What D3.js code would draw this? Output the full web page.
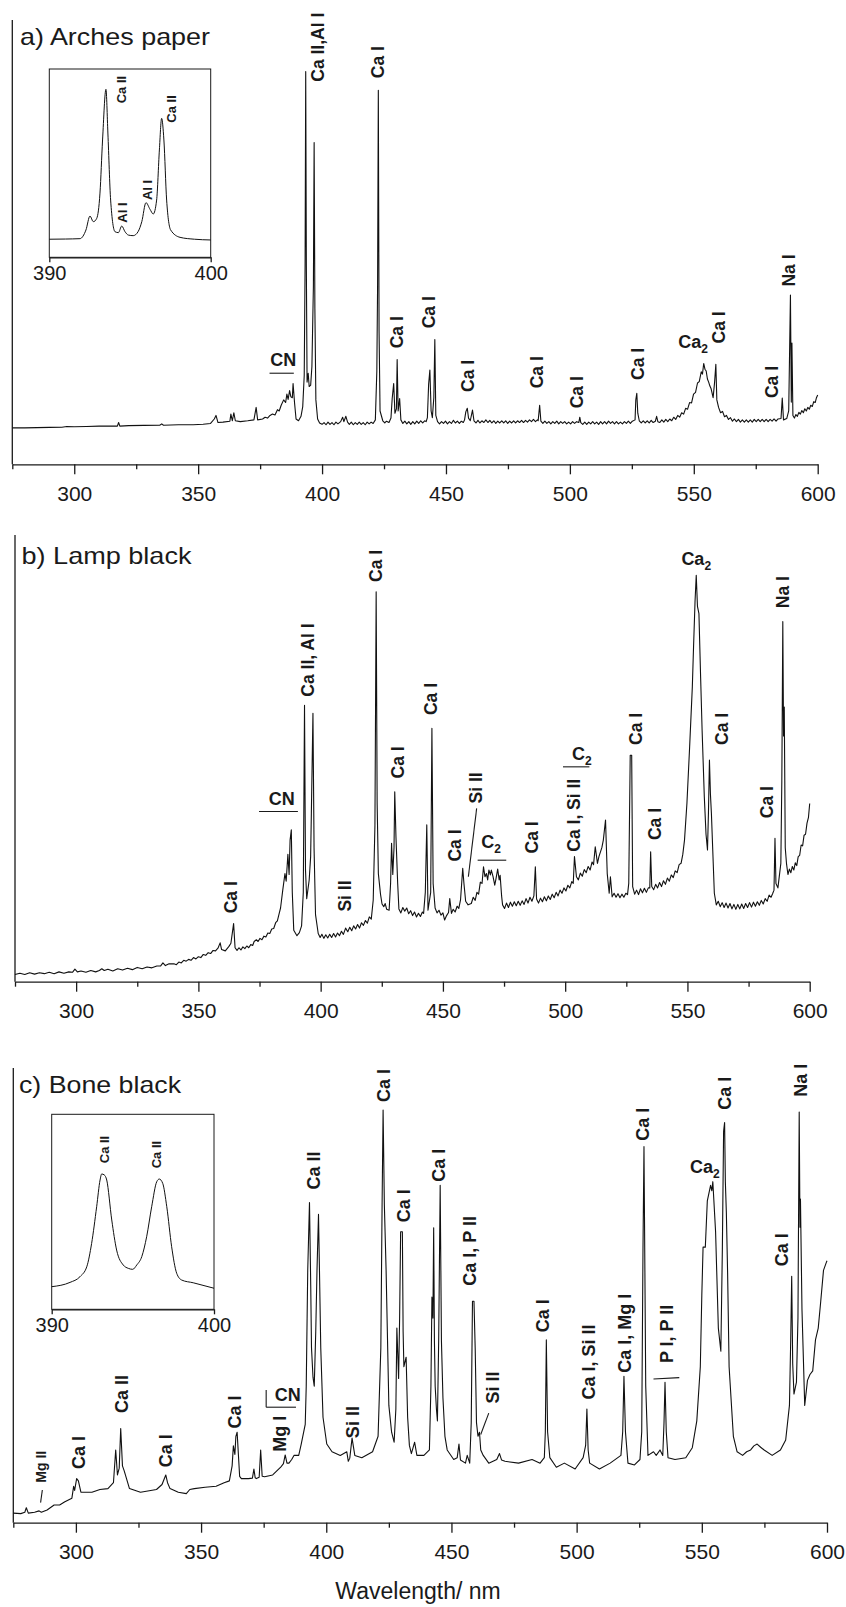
<!DOCTYPE html>
<html lang="en">
<head>
<meta charset="UTF-8">
<title>LIBS spectra</title>
<script src="https://d3js.org/d3.v7.min.js"></script>
<style>
  body { margin: 0; background: #fff; }
  svg text { font-family: "Liberation Sans", Arial, sans-serif; fill: #1a1a1a; }
</style>
</head>
<body>
<svg id="main" width="846" height="1607" viewBox="0 0 846 1607"></svg>
<script>
// ---- data: [wavelength nm, relative intensity 0..100 of the panel height] ----
const majorTicks = [300, 350, 400, 450, 500, 550, 600];
const minorTicks = [275, 325, 375, 425, 475, 525, 575];
const insetTicks = [390, 400];

const archesSpectrum = [
  [275, 8.2], [280, 8.2], [285, 8.25], [290, 8.3], [295, 8.35], [297, 8.5], [300, 8.45], [305, 8.5], [310, 8.6],
  [315, 8.6], [317.4, 8.6], [317.9, 9.4], [318.4, 8.6], [322, 8.7], [328, 8.75], [334.5, 8.8], [335.3, 9.1],
  [336, 8.8], [342, 8.9], [348, 8.9], [352, 9.0], [355, 9.2], [356.5, 10.2], [357.2, 11.0], [358, 9.4], [360, 9.5],
  [362.8, 9.7], [363.2, 11.3], [363.8, 9.8], [364.4, 11.6], [365, 9.8], [367, 9.6], [370, 9.8], [372.5, 10],
  [373.4, 12.8], [374, 10.0], [376, 10.2], [377, 10.6], [378, 10.4], [379, 11.0], [380, 11.3], [381, 11.1],
  [382, 12.3], [382.7, 12.0], [383.5, 13.3], [384.5, 14.5],
  [385.3, 13.9], [385.8, 15.8], [386.3, 14.6], [386.9, 16.6], [387.4, 15.2], [388, 15.0], [388.3, 18.2],
  [388.9, 13.8], [389.5, 10.2], [390.5, 9.8], [391.5, 10.8], [392.2, 13], [392.8, 20], [393.15, 45], [393.4, 88.4],
  [393.65, 45], [393.95, 18.5], [394.4, 20.5], [394.8, 17.5], [395.4, 17.8], [395.9, 22], [396.15, 29.5],
  [396.5, 40], [396.8, 72.4], [397.1, 35], [397.5, 14.5], [398.2, 10.2], [399, 9.3],
  [400, 9.0], [400.8, 9.4], [401.6, 8.9], [402.4, 9.5], [403.2, 9.0], [404, 9.4], [404.8, 8.9], [405.6, 9.5],
  [406.4, 9.1], [407.5, 9.6], [408.3, 10.6], [408.8, 9.6], [409.6, 10.8], [410.3, 9.5], [411, 9.0], [411.8, 9.5],
  [412.6, 8.9], [413.4, 9.4], [414.2, 9.0], [415, 9.5], [415.8, 9.0], [416.6, 9.4], [417.4, 8.9], [418.2, 9.5],
  [419, 9.1], [419.8, 9.5], [420.6, 9.2], [421.5, 10.0], [422.1, 21], [422.4, 40], [422.7, 84.2], [423, 30],
  [423.4, 12], [424.5, 9.8], [425.3, 9.3], [426, 9.7], [427, 9.4], [427.8, 10.4], [428.3, 14.8], [428.9, 18.2],
  [429.4, 11.5], [430.0, 12.5], [430.3, 23.6], [430.7, 12], [431.3, 14.8], [431.8, 10.0], [432.6, 9.2],
  [433.4, 9.7], [434.2, 9.1], [435, 9.6], [435.8, 9.0], [436.6, 9.6], [437.4, 9.1], [438.2, 9.7], [439, 9.2],
  [439.8, 9.8], [440.6, 9.3], [441.4, 9.8], [442, 9.6], [442.5, 10.5], [443, 18.0], [443.5, 21.2], [444, 12],
  [444.5, 10.5], [445.1, 15], [445.5, 28.1], [445.9, 11], [446.6, 9.6], [447.4, 9.1], [448.2, 9.6], [449, 9.2],
  [449.8, 9.7], [450.6, 9.1], [451.4, 9.6], [452.2, 9.2], [453, 9.9], [453.8, 9.3], [454.6, 9.7], [455.4, 9.2],
  [456.2, 9.7], [457, 9.4], [457.5, 10.0], [458, 11.8], [458.6, 12.6], [459.1, 10.4], [459.8, 9.8], [460.7, 12.2],
  [461.3, 9.8], [462.1, 9.3], [462.9, 9.9], [463.7, 9.3], [464.5, 9.8], [465.3, 9.4], [466.1, 10.0], [466.9, 9.4],
  [467.7, 9.9], [468.5, 9.3], [469.3, 9.8], [470.1, 9.2], [470.9, 9.7], [471.7, 9.3], [472.5, 9.8], [473.3, 9.3],
  [474.1, 9.8], [474.9, 9.2], [475.7, 9.7], [476.5, 9.3], [477.3, 9.8], [478.1, 9.3], [478.9, 9.8], [479.7, 9.4],
  [480.5, 9.9], [481.3, 9.4], [482.1, 9.9], [482.9, 9.5], [483.7, 10.0], [484.5, 9.6], [485.3, 10.1], [486.1, 9.6],
  [486.9, 10.0], [487.2, 9.8], [487.8, 13.3], [488.3, 9.7], [489.1, 9.2], [489.9, 9.7], [490.7, 9.2], [491.5, 9.6],
  [492.3, 9.1], [493.1, 9.6], [493.9, 9.2], [494.7, 9.7], [495.5, 9.1], [496.3, 9.6], [497.1, 9.2], [497.9, 9.6],
  [498.7, 9.1], [499.5, 9.5], [500.3, 9.1], [501.1, 9.6], [501.9, 9.2], [502.7, 9.6], [503.6, 9.4], [504.0, 10.6],
  [504.4, 9.4], [505.2, 9.0], [506, 9.5], [506.8, 9.0], [507.6, 9.5], [508.4, 9.1], [509.2, 9.6], [510, 9.1],
  [510.8, 9.5], [511.6, 9.0], [512.4, 9.6], [513.2, 9.1], [514, 9.6], [514.8, 9.1], [515.6, 9.7], [516.4, 9.2],
  [517.2, 9.6], [518, 9.1], [518.8, 9.6], [519.6, 9.1], [520.4, 9.5], [521.2, 9.1], [522, 9.6], [522.8, 9.2],
  [523.6, 9.7], [524.4, 9.2], [525.2, 9.7], [526.3, 10.0], [526.6, 14.5], [527, 16.0], [527.4, 11.5], [528, 9.8],
  [528.8, 9.3], [529.6, 9.8], [530.4, 9.3], [531.2, 9.8], [532, 9.3], [532.8, 9.9], [533.6, 9.4], [534.5, 9.7],
  [535, 10.8], [535.5, 9.6], [536.3, 9.4], [537.1, 10.0], [537.9, 9.5], [538.7, 10.1], [539.5, 9.6], [540.3, 10.2],
  [541.1, 9.8], [541.9, 10.6], [542.7, 10.1], [543.5, 11.0], [544.3, 10.6], [545.1, 11.6], [545.9, 11.3],
  [546.7, 12.6], [547.5, 12.4], [548.3, 13.9], [549.1, 13.8], [549.9, 15.8], [550.7, 16.2], [551.5, 18.3],
  [552.2, 18.6], [553, 20.8], [553.5, 20.3], [554, 22.7], [554.5, 21.4], [555, 21.0], [555.5, 19.2], [556, 18.5],
  [556.5, 17.6], [557, 17.0], [557.8, 15.0], [558.4, 18.5], [558.9, 22.5], [559.3, 14.5], [560, 12.8],
  [560.8, 11.6], [561.6, 11.9], [562.4, 10.7], [563.2, 11.0], [564, 10.1], [564.8, 10.5], [565.6, 9.7],
  [566.4, 10.2], [567.2, 9.6], [568, 10.1], [568.8, 9.5], [569.6, 10.0], [570.4, 9.5], [571.2, 10.0], [572, 9.5],
  [572.8, 10.0], [573.6, 9.5], [574.4, 10.1], [575.2, 9.6], [576, 10.1], [576.8, 9.6], [577.6, 10.1], [578.4, 9.6],
  [579.2, 10.1], [580, 9.6], [580.8, 10.1], [581.6, 9.7], [582.4, 10.2], [583.2, 9.7], [584, 10.2], [585.2, 10.3],
  [585.7, 14.9], [586.2, 10.0], [587.5, 10.3], [588.3, 12], [589.0, 38.1], [589.35, 14], [589.6, 27.3],
  [590, 11.0], [590.6, 10.4], [591.2, 11.2], [591.8, 10.8], [592.4, 11.7], [593, 11.3], [593.6, 12.1],
  [594.2, 11.6], [594.8, 12.5], [595.4, 12.0], [596, 12.8], [596.6, 12.4], [597.2, 13.3], [597.8, 13.0],
  [598.4, 14.1], [599, 13.9], [599.5, 15.0], [600, 15.6]
];

const archesInset = [
  [390.0, 9.6], [391.0, 9.7], [391.9, 9.9], [392.27, 14.5], [392.52, 21.9], [392.73, 18.9], [392.94, 20.7],
  [393.14, 34.1], [393.3, 62.3], [393.51, 89.2], [393.63, 66.0], [393.8, 30.4], [394.07, 13.6], [394.28, 13.1],
  [394.49, 16.6], [394.69, 13.6], [394.9, 11.8], [395.2, 11.5], [395.5, 13.6], [395.73, 18.9], [395.99, 29.0],
  [396.24, 25.5], [396.44, 23.0], [396.65, 30.4], [396.82, 57.0], [396.96, 73.8], [397.1, 62.3], [397.27, 30.4],
  [397.52, 14.5], [398.1, 10.6], [399.0, 9.6], [400, 9.2]
];

const lampSpectrum = [
  [275, 1.6], [277, 1.9], [279, 1.6], [281, 2.0], [283, 1.7], [285, 2.0], [287, 1.8], [289, 2.1], [291, 1.8],
  [293, 2.2], [295, 1.9], [297, 2.2], [298.5, 2.1], [299.5, 2.8], [300.5, 2.2], [302, 2.4], [304, 2.1], [306, 2.5],
  [308, 2.2], [309.5, 2.5], [310.5, 2.9], [311.5, 2.5], [313, 2.8], [315, 2.4], [317, 2.9], [319, 2.6], [321, 3.0],
  [323, 2.7], [325, 3.2], [327, 2.9], [329, 3.3], [331, 3.1], [333, 3.5], [334.5, 3.5], [335.5, 4.2], [336.5, 3.6],
  [338, 4.0], [340, 4.0], [341, 3.8], [342, 4.4], [343, 4.2], [344, 4.8], [345, 4.6], [346, 5.0], [347, 4.8],
  [348, 5.4], [349, 5.1], [350, 5.6], [351, 5.4], [352, 6.1], [353, 5.9], [354, 6.5], [355, 6.3], [356, 7.0],
  [357, 6.9], [358, 7.5], [358.9, 8.7], [359.5, 7.2], [361, 6.9], [362.5, 7.9], [363.3, 8.6], [364.4, 13.0],
  [365, 7.6], [365.8, 7.0], [366.6, 7.6], [367.4, 7.1], [368.2, 7.8], [369, 7.4], [369.8, 8.0], [370.6, 7.6],
  [371.4, 8.3], [372.2, 8.1], [372.8, 9.0], [373.7, 9.4], [374.4, 9.0], [375.2, 9.7], [376, 9.4], [376.8, 10.2],
  [377.6, 10.0], [378.4, 10.9], [379.2, 10.8], [380, 11.8], [380.8, 11.9], [381.6, 13.2], [382.3, 13.6],
  [383, 15.2], [383.6, 16.5], [384.5, 20.5], [385.4, 24.2], [385.9, 22.5], [386.6, 28.5], [387.1, 24],
  [387.5, 31.7], [388.0, 34.0], [388.4, 20], [389, 11.5], [390.3, 10.3], [391.3, 11.0], [392.2, 12.5],
  [392.9, 20], [393.4, 61.9], [393.8, 25], [394.3, 18.6], [395.3, 22.7], [395.9, 28], [396.2, 37.7],
  [396.85, 60.1], [397.3, 30], [397.9, 15], [399, 10.8], [399.8, 9.9], [400.5, 10.6], [401.3, 9.7], [402.1, 10.5],
  [402.9, 9.8], [403.7, 10.6], [404.5, 9.9], [405.3, 10.8], [406.1, 10.0], [406.9, 10.9], [407.7, 10.3],
  [408.5, 11.3], [409.3, 10.6], [410.2, 12.0], [411.1, 11.2], [411.9, 12.2], [412.7, 11.4], [413.5, 12.5],
  [414.3, 11.8], [415.1, 12.8], [415.9, 12.0], [416.7, 13.2], [417.5, 12.6], [418.3, 13.7], [419.1, 13.1],
  [419.9, 14.5], [420.7, 14.0], [421.5, 18.3], [422.2, 35], [422.7, 87.3], [423.1, 40], [423.6, 24.2],
  [424.5, 19.5], [425.1, 17.4], [425.8, 16.8], [426.4, 17.5], [427, 16.2], [428, 16.0], [428.6, 22], [429.0, 31.0],
  [429.5, 24], [430.0, 30], [430.3, 42.5], [430.8, 32.4], [431.5, 22], [432, 16.3], [432.8, 15.4], [433.6, 16.6],
  [434.4, 15.8], [435.2, 16.5], [436, 15.2], [436.8, 15.9], [437.6, 14.8], [438.4, 15.6], [439.2, 14.5],
  [440, 15.3], [440.8, 14.6], [441.6, 15.6], [442.1, 15.3], [442.8, 20], [443.4, 35.1], [443.9, 16.0],
  [445.0, 20], [445.5, 56.7], [446.0, 22], [446.8, 16.5], [447.6, 15.4], [448.4, 16.0], [449.2, 14.9],
  [450, 15.4], [450.7, 13.8], [451.5, 14.8], [452.3, 15.5], [452.8, 18.6], [453.5, 15.3], [454.2, 16.2],
  [455, 15.6], [455.8, 16.9], [456.5, 16.4], [457.2, 18.3], [458.1, 25.4], [458.6, 22], [459.3, 18.0],
  [460.3, 17.2], [461.6, 17.5], [462.4, 18.9], [463.2, 18.2], [463.9, 20.0], [464.6, 19.6], [465.3, 22.3],
  [466, 22.0], [466.6, 25.7], [467.2, 23.5], [467.8, 24.2], [468.3, 22.8], [468.8, 25.0], [469.4, 23.9],
  [469.8, 25.0], [470.5, 23.5], [471.2, 21.6], [471.7, 23.0], [472.4, 25.2], [473.0, 22.8], [473.4, 23.8],
  [474.0, 19.2], [474.4, 17.2], [475.2, 16.4], [476, 17.6], [476.8, 16.6], [477.6, 17.8], [478.4, 16.9],
  [479.2, 17.9], [480, 17.0], [480.8, 18.0], [481.6, 17.1], [482.4, 18.1], [483.2, 17.3], [484, 18.6],
  [484.8, 17.6], [485.6, 18.9], [486.4, 18.0], [487.2, 19.2], [487.8, 25.7], [488.3, 18.5], [489.1, 17.6],
  [489.9, 18.7], [490.7, 17.9], [491.5, 19.0], [492.3, 18.1], [493.1, 19.2], [493.9, 18.4], [494.7, 19.6],
  [495.5, 18.8], [496.3, 20.0], [497.1, 19.2], [497.9, 20.5], [498.7, 19.8], [499.5, 21.0], [500.3, 20.3],
  [501.1, 21.6], [501.9, 21.0], [502.7, 22.4], [503.3, 22.0], [503.8, 28.0], [504.6, 23.5], [505.4, 22.8],
  [506.2, 24.3], [507, 23.6], [507.8, 25.1], [508.6, 24.4], [509.4, 25.8], [510.2, 25.0], [511, 26.8],
  [511.6, 26.2], [512.3, 30.2], [513.2, 26.5], [513.8, 28.0], [515, 30], [515.6, 31.7], [516.5, 36.2],
  [517.2, 24.2], [518, 19.8], [518.5, 23.5], [519.2, 19.0], [520, 19.8], [520.8, 18.9], [521.6, 19.7],
  [522.4, 18.8], [523.2, 19.6], [524, 18.9], [524.8, 19.8], [525.5, 19.5], [526.0, 22], [526.6, 50.7],
  [527.2, 50.7], [527.6, 21.3], [528.4, 19.6], [529.2, 20.5], [530, 19.5], [530.8, 20.8], [531.6, 19.9],
  [532.4, 20.9], [533.2, 20.0], [534, 21.0], [534.6, 21], [534.95, 29.1], [535.4, 21.3], [536.2, 20.6],
  [537, 21.8], [537.8, 21.0], [538.6, 22.2], [539.4, 21.3], [540.2, 22.6], [541, 21.8], [541.8, 23.2],
  [542.6, 22.5], [543.4, 23.9], [544.2, 23.3], [545, 24.8], [545.8, 24.4], [546.6, 26.2], [547.4, 26.5],
  [548.1, 28.5], [548.8, 31.7], [549.8, 40], [550.9, 52.6], [552.0, 66], [552.5, 75.0], [553.1, 85],
  [553.6, 91.0], [554.1, 84], [554.7, 82.4], [555.4, 68], [556, 56.3], [556.9, 41.4], [557.6, 33], [558.2, 29.5],
  [558.6, 38], [559.0, 49.6], [559.4, 42], [559.8, 37.7], [560.3, 30.2], [561, 19.8], [561.8, 17.2], [562.6, 18.0],
  [563.4, 16.8], [564.2, 17.7], [565, 16.6], [565.8, 17.6], [566.6, 16.5], [567.4, 17.5], [568.2, 16.3],
  [569, 17.3], [569.8, 16.2], [570.6, 17.3], [571.4, 16.3], [572.2, 17.4], [573, 16.4], [573.8, 17.5],
  [574.6, 16.6], [575.4, 17.7], [576.2, 16.7], [577, 17.8], [577.8, 16.9], [578.6, 17.9], [579.4, 17.1],
  [580.2, 18.2], [581, 17.4], [581.8, 18.6], [582.6, 18.0], [583.4, 19.4], [584.2, 18.9], [584.9, 19.8],
  [585.4, 20.5], [585.8, 32.1], [586.2, 22], [587, 21.0], [588.2, 26.5], [588.6, 45], [589.0, 80.6], [589.3, 55],
  [589.6, 61.5], [590.0, 30], [590.5, 26.5], [591.1, 24.0], [591.7, 25.2], [592.3, 24.4], [592.9, 25.8],
  [593.5, 25.0], [594.1, 26.6], [594.7, 26.0], [595.3, 28.0], [595.9, 28.3], [596.5, 30.6], [597.1, 30.4],
  [597.7, 32.8], [598.3, 33.0], [598.9, 35.5], [599.5, 36.8], [600, 39.9]
];

const boneSpectrum = [
  [275, 2.1], [278, 2.0], [279.6, 2.3], [280.2, 3.3], [281, 2.1], [283.5, 2.3], [285.3, 2.6], [286.2, 2.3],
  [288.5, 2.8], [291.3, 3.9], [293.5, 3.9], [295.6, 4.6], [298.4, 5.4], [299.1, 8.0], [299.5, 7.1], [300.3, 9.7],
  [301.0, 9.2], [302.0, 6.7], [306.4, 6.7], [309.6, 7.3], [312.8, 7.5], [315.0, 8.8], [315.9, 16.0], [316.6, 10.5],
  [317.3, 12.0], [317.9, 20.7], [318.6, 12.5], [319.3, 11.4], [321.4, 7.5], [325.8, 6.7], [332.2, 7.3],
  [334.4, 8.4], [335.9, 10.5], [336.6, 8.8], [337.6, 7.5], [340.9, 6.7], [344.1, 6.4], [345.5, 7.3], [347.3, 7.5],
  [351.6, 7.8], [356, 8.0], [359.2, 8.8], [361.3, 9.2], [362.4, 12.5], [362.9, 16.9], [363.5, 15.0], [363.9, 19.0],
  [364.4, 19.9], [365.4, 10.2], [366.1, 9.7], [368.9, 9.7], [370.5, 9.8], [371.1, 11.8], [371.6, 9.9],
  [372.1, 9.7], [373.2, 10.0], [373.8, 16.0], [374.4, 10.2], [375.4, 10.1], [378.6, 10.5], [381.8, 12.2],
  [382.9, 13.0], [383.6, 14.9], [384.3, 13.1], [385.1, 13.1], [386.2, 13.9], [387.1, 14.8], [387.9, 14.8],
  [389.0, 14.8], [390.0, 17.3], [391.6, 21.6], [392.0, 30.0], [392.6, 55.5], [393.3, 70.4], [393.8, 52],
  [394.1, 38.5], [394.7, 32], [395.2, 30.0], [395.8, 42], [396.3, 55.5], [396.9, 67.8], [397.3, 55], [397.8, 38.5],
  [398.7, 23.2], [400.2, 17.3], [402.3, 15.6], [405.6, 14.8], [408.2, 15.6], [408.8, 13.5], [409.4, 14.2],
  [410.3, 18.6], [411.4, 14.8], [414.2, 14.3], [418.5, 15.6], [420.7, 19.0], [421.8, 38.5], [422.3, 70],
  [422.7, 90.75], [423.2, 70], [423.9, 55.5], [425.0, 25.8], [426.1, 19.9], [427.1, 17.7], [427.8, 25],
  [428.2, 42.8], [428.9, 31.7], [429.3, 45], [429.7, 64.0], [430.4, 64.0], [430.7, 42], [431.0, 34.3],
  [431.9, 36.4], [432.5, 23.2], [433.2, 17], [434.0, 15.2], [435.3, 17.7], [436.2, 14.8], [439.0, 14.8],
  [441.2, 16.0], [441.8, 30], [442.2, 49.6], [442.6, 45], [442.9, 64.85], [443.2, 40], [443.5, 30.0], [444.0, 25],
  [444.4, 22.4], [444.9, 40], [445.5, 74.2], [446.0, 40], [446.6, 27.5], [447.4, 19], [448.3, 16.0], [450.9, 13.9],
  [452.3, 14.3], [453.0, 17.3], [453.6, 13.8], [455.6, 13.1], [456.3, 14.8], [457.3, 13.1], [457.9, 22],
  [458.4, 48.7], [459.0, 48.7], [459.5, 38], [460.0, 22], [460.6, 19.0], [461.2, 19.9], [461.7, 16], [462.7, 14.8],
  [464.9, 13.1], [468.1, 13.9], [469.2, 15.2], [470.0, 13.8], [471.4, 13.5], [476.8, 13.1], [482.2, 13.9],
  [485.4, 13.1], [487.1, 14.3], [487.5, 20], [487.9, 40.2], [488.4, 20], [489.3, 14.3], [491.9, 12.2],
  [495.1, 13.1], [499.4, 11.8], [502.6, 14.3], [503.6, 17], [504.1, 25.0], [504.6, 16], [505.2, 13.1],
  [509.1, 11.8], [513.4, 13.1], [517.7, 14.8], [518.4, 20], [518.9, 32.2], [519.5, 20], [520.5, 13.1],
  [523.1, 12.7], [525.3, 13.9], [526.0, 20], [526.5, 60], [526.9, 82.7], [527.2, 60], [527.6, 30.0], [528.5, 14.8],
  [530.7, 15.6], [531.8, 14.8], [533.3, 16.0], [534.4, 14.8], [534.9, 22], [535.3, 30.9], [535.8, 20],
  [536.5, 14.3], [539.3, 13.9], [543.6, 14.3], [546.2, 16.5], [548.0, 22.4], [549.4, 34.3], [550.0, 50],
  [550.5, 60.6], [551.4, 60.6], [552.2, 70.8], [553.5, 74.2], [554.0, 73], [554.4, 75.0], [555.5, 64.0],
  [556.6, 42.8], [557.6, 37.7], [558.2, 60], [558.7, 86.1], [559.1, 88.0], [559.4, 75], [559.8, 68.2],
  [560.3, 55], [560.9, 34.3], [562.6, 19.0], [564.1, 15.6], [566.3, 14.8], [567.9, 15.6], [569.5, 16.0],
  [570.8, 16.9], [572.1, 17.3], [573.5, 16.6], [574.9, 16.0], [578.1, 14.8], [581.4, 16.0], [583.5, 18.2],
  [585.0, 25.8], [585.5, 40], [585.9, 54.2], [586.3, 35], [586.8, 28.3], [587.8, 30.9], [588.4, 45], [588.9, 90.3],
  [589.2, 65], [589.4, 71.2], [590.0, 47.0], [591.1, 25.8], [592.2, 31.3], [593.2, 32.6], [594.3, 33.4],
  [595.4, 40.2], [596.5, 42.8], [597.5, 48.7], [598.6, 55.5], [599.7, 57.2], [600, 57.6]
];

const boneInset = [
  [390, 11.6], [391.13, 13.8], [391.74, 16.7], [392.16, 21.8], [392.46, 33.8], [392.77, 52.6], [392.98, 66.3],
  [393.08, 69.4], [393.24, 68.9], [393.39, 66.3], [393.7, 45.8], [394.0, 30.4], [394.41, 22.7], [394.72, 21.0],
  [394.99, 20.5], [395.24, 22.7], [395.55, 27.0], [395.85, 37.2], [396.16, 52.6], [396.47, 65.4], [396.63, 66.8],
  [396.84, 64.6], [397.09, 52.6], [397.39, 32.1], [397.7, 18.5], [398.01, 15.0], [398.72, 13.6], [400, 10.8]
];

// peak labels: [text, wavelength, intensity where the rotated text starts]
const archesLabels = [
  ['Ca II,Al I', 398.4, 86.1], ['Ca I', 422.3, 86.9], ['Ca I', 430.0, 26.1], ['Ca I', 443.0, 30.6],
  ['Ca I', 458.9, 16.3], ['Ca I', 486.6, 17.1], ['Ca I', 502.9, 12.6], ['Ca I', 527.5, 19.0],
  ['Ca I', 560.1, 27.2], ['Ca I', 581.6, 14.9], ['Na I', 588.2, 40.0]
];
const lampLabels = [
  ['Ca II, Al I', 394.7, 63.8], ['Ca I', 422.7, 89.5], ['Ca I', 363.1, 15.3], ['Si II', 409.7, 15.7],
  ['Ca I', 431.5, 45.5], ['Ca I', 444.8, 59.7], ['Ca I', 454.7, 26.9], ['Si II', 463.5, 39.9],
  ['Ca I', 486.3, 28.7], ['Ca I, Si II', 503.5, 29.1], ['Ca I', 528.9, 53.0], ['Ca I', 536.6, 31.7],
  ['Ca I', 563.9, 53.0], ['Ca I', 582.3, 36.6], ['Na I', 588.9, 83.6]
];
const boneLabels = [
  ['Ca I', 301.0, 11.8], ['Ca II', 318.2, 24.1], ['Ca I', 335.9, 12.2], ['Ca I', 363.5, 20.7],
  ['Mg I', 381.4, 15.6], ['Ca II', 394.8, 73.3], ['Si II', 410.3, 18.6], ['Ca I', 422.8, 92.5],
  ['Ca I', 431.0, 66.1], ['Ca I', 444.8, 75.0], ['Ca I, P II', 457.3, 52.1], ['Si II', 466.4, 26.2],
  ['Ca I', 486.5, 41.9], ['Ca I, Si II', 504.8, 27.1], ['Ca I, Mg I', 519.3, 33.0], ['Ca I', 526.4, 84.0],
  ['P I, P II', 536.1, 35.1], ['Ca I', 559.2, 90.8], ['Ca I', 582.0, 56.4], ['Na I', 589.6, 93.7]
];
const boneSmallLabels = [['Mg II', 285.9, 8.8]];

// molecular band labels: [text, subscript, wavelength, intensity of text centre]
const archesBands = [['CN', '', 384.3, 23.5], ['Ca', '2', 549.7, 27.6]];
const lampBands = [['CN', '', 384.1, 41.1], ['C', '2', 469.7, 31.3], ['C', '2', 506.8, 51.1], ['Ca', '2', 553.6, 94.8]];
const boneBands = [['CN', '', 384.6, 28.3], ['Ca', '2', 551.2, 78.4]];

// bars and leader lines: [[wavelength, intensity], [wavelength, intensity]]
const archesMarks = [[[378.8, 20.5], [388.6, 20.5]]];
const lampMarks = [
  [[374.8, 38.1], [390.7, 38.1]], [[464.2, 27.2], [475.9, 27.2]], [[499.1, 48.1], [509.9, 48.1]],
  [[463.8, 38.8], [460.4, 23.5]]
];
const boneMarks = [
  [[376.0, 29.2], [376.0, 25.4]], [[376.0, 25.4], [387.9, 25.4]], [[530.7, 31.6], [541.0, 31.9]],
  [[286.6, 7.2], [285.9, 4.4]], [[464.9, 24.1], [461.7, 19.4]]
];

const archesInsetLabels = [['Ca II', 394.45, 81.8], ['Ca II', 397.56, 71.5], ['Al I', 394.54, 18.4], ['Al I', 396.08, 30.4]];
const boneInsetLabels = [['Ca II', 393.24, 74.9], ['Ca II', 396.44, 72.3]];

// ---- layout ----
const panels = [
  { title: 'a) Arches paper', titleX: 20, titleY: 45, titleLen: 190,
    left: 12.3, right: 817.7, top: 20, bottom: 464.3, labelSize: 17.5,
    data: archesSpectrum, labels: archesLabels, small: [], bands: archesBands, marks: archesMarks,
    inset: { left: 49.3, right: 210.7, top: 69, bottom: 257.3, data: archesInset, labels: archesInsetLabels } },
  { title: 'b) Lamp black', titleX: 21.5, titleY: 564, titleLen: 170,
    left: 15, right: 809.7, top: 535, bottom: 981.7, labelSize: 17.5,
    data: lampSpectrum, labels: lampLabels, small: [], bands: lampBands, marks: lampMarks, inset: null },
  { title: 'c) Bone black', titleX: 19, titleY: 1093, titleLen: 162,
    left: 13.3, right: 827, top: 1068, bottom: 1522.7, labelSize: 18,
    data: boneSpectrum, labels: boneLabels, small: boneSmallLabels, bands: boneBands, marks: boneMarks,
    inset: { left: 51.7, right: 214, top: 1114.3, bottom: 1309.3, data: boneInset, labels: boneInsetLabels } }
];

const svg = d3.select('svg#main');

function styleAxis(g, size) {
    g.attr('font-size', size);
    g.select('.domain').attr('stroke', '#1a1a1a').attr('stroke-width', 1.3);
    g.selectAll('.tick line').attr('stroke', '#1a1a1a').attr('stroke-width', 1.3);
}

function rotatedLabels(g, x, y, rows, size) {
    g.selectAll(null)
        .data(rows)
        .enter()
        .append('text')
        .attr('transform', d => `translate(${x(d[1])},${y(d[2])}) rotate(-90)`)
        .attr('dy', '0.36em')
        .attr('font-weight', 'bold')
        .attr('font-size', size)
        .text(d => d[0]);
}

panels.forEach(function (p) {
    let g = svg.append('g');
    let x = d3.scaleLinear().domain([275, 600]).range([p.left, p.right]);
    let y = d3.scaleLinear().domain([0, 100]).range([p.bottom, p.top]);

    // y axis line only
    g.append('line')
        .attr('x1', p.left).attr('x2', p.left)
        .attr('y1', p.top).attr('y2', p.bottom)
        .attr('stroke', '#1a1a1a').attr('stroke-width', 1.3);

    g.append('g')
        .attr('transform', `translate(0,${p.bottom})`)
        .call(d3.axisBottom(x).tickValues(majorTicks).tickSize(10).tickSizeOuter(0).tickPadding(11.5))
        .call(a => styleAxis(a, 21));

    g.append('g')
        .attr('transform', `translate(0,${p.bottom})`)
        .call(d3.axisBottom(x).tickValues(minorTicks).tickSize(5).tickSizeOuter(0).tickFormat(''))
        .call(a => { styleAxis(a, 21); a.select('.domain').remove(); });

    let line = d3.line().x(d => x(d[0])).y(d => y(d[1]));
    g.append('path')
        .datum(p.data)
        .attr('d', line)
        .attr('fill', 'none')
        .attr('stroke', '#111')
        .attr('stroke-width', 1.1)
        .attr('stroke-linejoin', 'round');

    g.append('text')
        .attr('x', p.titleX).attr('y', p.titleY)
        .attr('font-size', 24)
        .attr('textLength', p.titleLen)
        .attr('lengthAdjust', 'spacingAndGlyphs')
        .text(p.title);

    rotatedLabels(g, x, y, p.labels, p.labelSize);
    rotatedLabels(g, x, y, p.small, 14);

    let bands = g.selectAll(null)
        .data(p.bands)
        .enter()
        .append('text')
        .attr('x', d => x(d[2]))
        .attr('y', d => y(d[3]) + 6.5)
        .attr('text-anchor', 'middle')
        .attr('font-weight', 'bold')
        .attr('font-size', 18);
    bands.append('tspan').text(d => d[0]);
    bands.append('tspan')
        .attr('dy', 5)
        .attr('font-size', 12)
        .text(d => d[1]);

    g.selectAll(null)
        .data(p.marks)
        .enter()
        .append('line')
        .attr('x1', d => x(d[0][0])).attr('y1', d => y(d[0][1]))
        .attr('x2', d => x(d[1][0])).attr('y2', d => y(d[1][1]))
        .attr('stroke', '#1a1a1a')
        .attr('stroke-width', 1.1);

    if (p.inset) {
        let s = p.inset;
        let ix = d3.scaleLinear().domain([390, 400]).range([s.left, s.right]);
        let iy = d3.scaleLinear().domain([0, 100]).range([s.bottom, s.top]);
        g.append('rect')
            .attr('x', s.left).attr('y', s.top)
            .attr('width', s.right - s.left).attr('height', s.bottom - s.top)
            .attr('fill', 'none').attr('stroke', '#1a1a1a').attr('stroke-width', 1);
        g.append('g')
            .attr('transform', `translate(0,${s.bottom})`)
            .call(d3.axisBottom(ix).tickValues(insetTicks).tickSize(5).tickSizeOuter(0).tickPadding(3.5))
            .call(a => styleAxis(a, 20));
        g.append('path')
            .datum(s.data)
            .attr('d', d3.line().x(d => ix(d[0])).y(d => iy(d[1])).curve(d3.curveMonotoneX))
            .attr('fill', 'none')
            .attr('stroke', '#111')
            .attr('stroke-width', 1);
        rotatedLabels(g, ix, iy, s.labels, 13);
    }
});

svg.append('text')
    .attr('x', 418).attr('y', 1599)
    .attr('text-anchor', 'middle')
    .attr('font-size', 23)
    .text('Wavelength/ nm');
</script>
</body>
</html>
